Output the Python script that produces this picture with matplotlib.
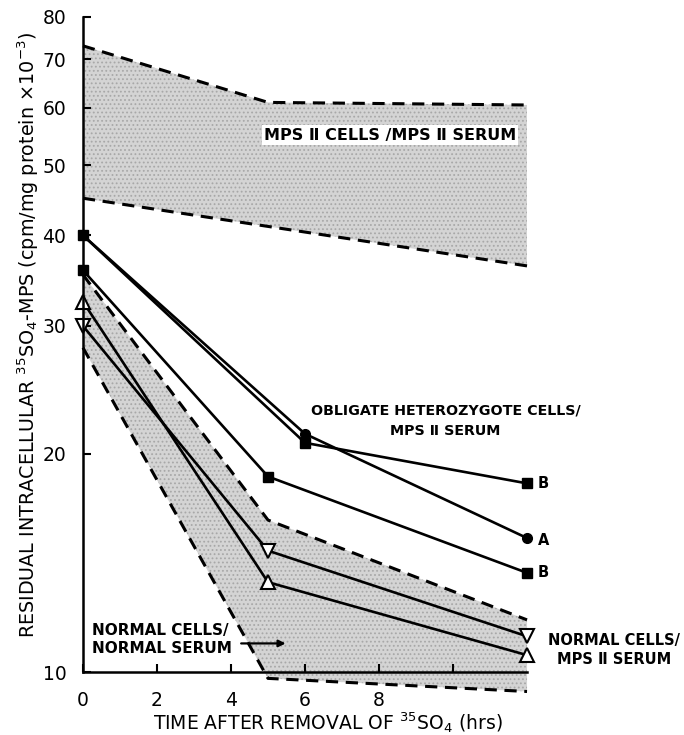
import numpy as np
import matplotlib.pyplot as plt
from matplotlib.patches import Polygon

# MPS II cells / MPS II serum band (dashed limits)
mps_up_x = [0, 5, 12]
mps_up_y = [73, 61, 60.5]
mps_lo_x = [0, 12]
mps_lo_y = [45, 36.3]

# normal cells / normal serum band
nrm_up_x = [0, 5, 12]
nrm_up_y = [35.3, 16.2, 11.8]
nrm_lo_x = [0, 5, 12]
nrm_lo_y = [28, 9.8, 9.4]

# obligate heterozygote cells / MPS II serum
het_a_x = [0, 6, 12]
het_a_y = [40, 21.3, 15.3]
het_b1_x = [0, 6, 12]
het_b1_y = [40, 20.7, 18.2]
het_b2_x = [0, 5, 12]
het_b2_y = [35.8, 18.6, 13.7]

# normal cells / MPS II serum
tri_dn_x = [0, 5, 12]
tri_dn_y = [30, 14.7, 11.2]
tri_up_x = [0, 5, 12]
tri_up_y = [32.4, 13.3, 10.55]

yticks = [10, 20, 30, 40, 50, 60, 70, 80]
xticks = [0, 2, 4, 6, 8, 10]
xticklabels = ['0', '2', '4', '6', '8', '']

plt.rcParams['font.family'] = ['DejaVu Sans']
plt.rcParams['hatch.linewidth'] = 0.8
fig = plt.figure(figsize=(6.84, 7.35), dpi=100)
ax = fig.add_axes([0.1213, 0.0857, 0.6492, 0.8912])
ax.set_yscale('log')
ax.set_xlim(0, 12)
ax.set_ylim(10, 80)

band_kw = dict(facecolor='#d4d4d4', edgecolor='#a8a8a8', linewidth=0,
               hatch='....', zorder=1)

verts = list(zip(mps_up_x, mps_up_y)) + list(zip(mps_lo_x, mps_lo_y))[::-1]
ax.add_patch(Polygon(verts, closed=True, **band_kw))
verts = list(zip(nrm_up_x, nrm_up_y)) + list(zip(nrm_lo_x, nrm_lo_y))[::-1]
ax.add_patch(Polygon(verts, closed=True, clip_on=False, **band_kw))

dash = dict(color='black', lw=2.2, ls=(0, (4, 2.5)), zorder=2, clip_on=False)
ax.plot(mps_up_x, mps_up_y, **dash)
ax.plot(mps_lo_x, mps_lo_y, **dash)
ax.plot(nrm_up_x, nrm_up_y, **dash)
ax.plot(nrm_lo_x, nrm_lo_y, **dash)

solid = dict(color='black', lw=1.9, zorder=3, clip_on=False)
ax.plot(het_a_x, het_a_y, marker='o', ms=7, mfc='black', markevery=[1, 2], **solid)
ax.plot(het_b1_x, het_b1_y, marker='s', ms=7, mfc='black', **solid)
ax.plot(het_b2_x, het_b2_y, marker='s', ms=7, mfc='black', **solid)
ax.plot(tri_dn_x, tri_dn_y, marker='v', ms=10, mfc='white', mew=1.5, **solid)
ax.plot(tri_up_x, tri_up_y, marker='^', ms=10, mfc='white', mew=1.5, **solid)

for s in ['top', 'right']:
    ax.spines[s].set_visible(False)
for s in ['left', 'bottom']:
    ax.spines[s].set_linewidth(1.8)
    ax.spines[s].set_zorder(4)

ax.set_yticks(yticks)
ax.set_yticklabels([str(v) for v in yticks])
ax.yaxis.set_minor_locator(plt.NullLocator())
ax.set_xticks(xticks)
ax.set_xticklabels(xticklabels)
ax.tick_params(direction='in', length=6, width=1.5, labelsize=13.5)
ax.tick_params(axis='y', pad=12)
ax.tick_params(axis='x', pad=14)

ax.set_xlabel('TIME AFTER REMOVAL OF $^{35}$SO$_4$ (hrs)', fontsize=13.5)
ax.xaxis.set_label_coords(0.552, -0.058)
ax.set_ylabel('RESIDUAL INTRACELLULAR $^{35}$SO$_4$-MPS (cpm/mg protein \u00d710$^{-3}$)',
              fontsize=13.8)
ax.yaxis.set_label_coords(-0.094, 0.515)

ax.text(8.3, 55.0, 'MPS \u2161 CELLS /MPS \u2161 SERUM', ha='center', va='center',
        fontsize=11.5, fontweight='bold',
        bbox=dict(facecolor='white', edgecolor='none', pad=1.5), zorder=5)
ax.text(9.8, 22.2, 'OBLIGATE HETEROZYGOTE CELLS/\nMPS \u2161 SERUM', ha='center',
        va='center', linespacing=1.6, fontsize=10.3, fontweight='bold')
ax.text(12.3, 18.2, 'B', ha='left', va='center', fontsize=10.5, fontweight='bold')
ax.text(12.3, 15.2, 'A', ha='left', va='center', fontsize=10.5, fontweight='bold')
ax.text(12.3, 13.7, 'B', ha='left', va='center', fontsize=10.5, fontweight='bold')
ax.text(14.35, 10.72, 'NORMAL CELLS/\nMPS \u2161 SERUM', ha='center', va='center',
        linespacing=1.35, fontsize=10.5, fontweight='bold')
ax.text(0.25, 11.1, 'NORMAL CELLS/\nNORMAL SERUM', ha='left', va='center',
        linespacing=1.25, fontsize=11, fontweight='bold')
ax.annotate('', xy=(5.55, 10.95), xytext=(4.2, 10.95),
            arrowprops=dict(arrowstyle='-|>', color='black', lw=1.6))

fig.savefig('out.png', dpi=100)
